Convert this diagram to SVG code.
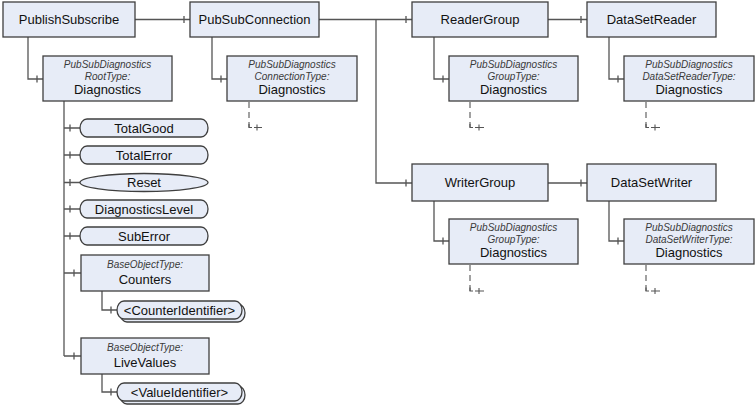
<svg xmlns="http://www.w3.org/2000/svg" width="756" height="407" viewBox="0 0 756 407">
<style>
.box{fill:#E7ECF7;stroke:#3F3F3F;stroke-width:1.3}
.t{font-family:"Liberation Sans",Arial,sans-serif;font-size:13px;fill:#111;text-anchor:middle}
.i{font-family:"Liberation Sans",Arial,sans-serif;font-size:10px;font-style:italic;fill:#3a3a3a;text-anchor:middle}
.c{fill:none;stroke:#555;stroke-width:1.3}
.d{fill:none;stroke:#555;stroke-width:1.1;stroke-dasharray:6,4}
.e{fill:none;stroke:#555;stroke-width:1.1}
</style>
<rect width="756" height="407" fill="#fff"/>
<g id="connectors">
<path class="c" d="M135,19.5H190M184,16V23"/>
<path class="c" d="M28,37V79H43M37,75.5V82.5"/>
<path class="c" d="M212,37V79H227M221,75.5V82.5"/>
<path class="c" d="M319,19.5H412M406,16V23"/>
<path class="c" d="M376,19.5V183H412M406,179.5V186.5"/>
<path class="c" d="M548,19.5H587M581,16V23"/>
<path class="c" d="M434,37V79H449M443,75.5V82.5"/>
<path class="c" d="M609,37V79H624M618,75.5V82.5"/>
<path class="c" d="M548,183H587M581,179.5V186.5"/>
<path class="c" d="M434,201V241H449M443,237.5V244.5"/>
<path class="c" d="M609,201V241H624M618,237.5V244.5"/>
<path class="c" d="M64,101V356"/>
<path class="c" d="M64,128H80M70,124.5V131.5"/>
<path class="c" d="M64,155H80M70,151.5V158.5"/>
<path class="c" d="M64,182.5H80M70,179V186"/>
<path class="c" d="M64,209H80M70,205.5V212.5"/>
<path class="c" d="M64,236H80M70,232.5V239.5"/>
<path class="c" d="M64,273H81M74,269.5V276.5"/>
<path class="c" d="M64,356H81M74,352.5V359.5"/>
<path class="c" d="M102,291V310H117M111,306.5V313.5"/>
<path class="c" d="M102,374V392H117M111,388.5V395.5"/>
<path class="d" d="M249,102V127.5"/><path class="e" d="M249,124V127.5H252M254,127.5H262M257,124.5V130.5"/>
<path class="d" d="M470,102V127.5"/><path class="e" d="M470,124V127.5H473M475,127.5H484M479,124.5V130.5"/>
<path class="d" d="M646,102V127.5"/><path class="e" d="M646,124V127.5H649M651,127.5H660M655,124.5V130.5"/>
<path class="d" d="M470,265V291"/><path class="e" d="M470,287.5V291H473M475,291H484M479,288V294"/>
<path class="d" d="M646,265V291"/><path class="e" d="M646,287.5V291H649M651,291H660M655,288V294"/>
</g>
<g id="PublishSubscribe"><rect class="box" x="3" y="2" width="132" height="35"/><text class="t" x="69" y="24">PublishSubscribe</text></g>
<g id="PubSubConnection"><rect class="box" x="190" y="2" width="129" height="35"/><text class="t" x="254.5" y="24">PubSubConnection</text></g>
<g id="ReaderGroup"><rect class="box" x="412" y="2" width="136" height="35"/><text class="t" x="480" y="24">ReaderGroup</text></g>
<g id="DataSetReader"><rect class="box" x="587" y="2" width="129" height="35"/><text class="t" x="651.5" y="24">DataSetReader</text></g>
<g id="WriterGroup"><rect class="box" x="412" y="164" width="136" height="37"/><text class="t" x="480" y="187">WriterGroup</text></g>
<g id="DataSetWriter"><rect class="box" x="587" y="164" width="129" height="37"/><text class="t" x="651.5" y="187">DataSetWriter</text></g>
<g id="RootDiagnostics"><rect class="box" x="43" y="56" width="129" height="45"/><text class="i" x="107.5" y="68">PubSubDiagnostics</text><text class="i" x="107.5" y="80">RootType:</text><text class="t" x="107.5" y="94">Diagnostics</text></g>
<g id="ConnectionDiagnostics"><rect class="box" x="227" y="56" width="130" height="45"/><text class="i" x="292" y="68">PubSubDiagnostics</text><text class="i" x="292" y="80">ConnectionType:</text><text class="t" x="292" y="94">Diagnostics</text></g>
<g id="ReaderGroupDiagnostics"><rect class="box" x="449" y="56" width="129" height="45"/><text class="i" x="513.5" y="68">PubSubDiagnostics</text><text class="i" x="513.5" y="80">GroupType:</text><text class="t" x="513.5" y="94">Diagnostics</text></g>
<g id="DataSetReaderDiagnostics"><rect class="box" x="624" y="56" width="130" height="45"/><text class="i" x="689" y="68">PubSubDiagnostics</text><text class="i" x="689" y="80">DataSetReaderType:</text><text class="t" x="689" y="94">Diagnostics</text></g>
<g id="WriterGroupDiagnostics"><rect class="box" x="449" y="219" width="129" height="45"/><text class="i" x="513.5" y="231">PubSubDiagnostics</text><text class="i" x="513.5" y="243">GroupType:</text><text class="t" x="513.5" y="257">Diagnostics</text></g>
<g id="DataSetWriterDiagnostics"><rect class="box" x="624" y="219" width="130" height="45"/><text class="i" x="689" y="231">PubSubDiagnostics</text><text class="i" x="689" y="243">DataSetWriterType:</text><text class="t" x="689" y="257">Diagnostics</text></g>
<g id="TotalGood"><rect class="box" x="80" y="119" width="128" height="18" rx="7" ry="9"/><text class="t" x="144" y="132.5">TotalGood</text></g>
<g id="TotalError"><rect class="box" x="80" y="146" width="128" height="18" rx="7" ry="9"/><text class="t" x="144" y="159.5">TotalError</text></g>
<g id="Reset"><ellipse class="box" cx="144" cy="182.5" rx="64" ry="9"/><text class="t" x="144" y="187">Reset</text></g>
<g id="DiagnosticsLevel"><rect class="box" x="80" y="200" width="128" height="18" rx="7" ry="9"/><text class="t" x="144" y="213.5">DiagnosticsLevel</text></g>
<g id="SubError"><rect class="box" x="80" y="227" width="128" height="18" rx="7" ry="9"/><text class="t" x="144" y="240.5">SubError</text></g>
<g id="Counters"><rect class="box" x="81" y="255" width="128" height="36"/><text class="i" x="145" y="268">BaseObjectType:</text><text class="t" x="145" y="284">Counters</text></g>
<g id="LiveValues"><rect class="box" x="81" y="338" width="128" height="36"/><text class="i" x="145" y="351">BaseObjectType:</text><text class="t" x="145" y="367">LiveValues</text></g>
<g id="CounterIdentifier"><rect class="box" x="120" y="304" width="125" height="18" rx="7" ry="9"/><rect class="box" x="117" y="301" width="125" height="18" rx="7" ry="9"/><text class="t" x="179.5" y="314.5">&lt;CounterIdentifier&gt;</text></g>
<g id="ValueIdentifier"><rect class="box" x="120" y="386" width="125" height="18" rx="7" ry="9"/><rect class="box" x="117" y="383" width="125" height="18" rx="7" ry="9"/><text class="t" x="179.5" y="396.5">&lt;ValueIdentifier&gt;</text></g>
</svg>
